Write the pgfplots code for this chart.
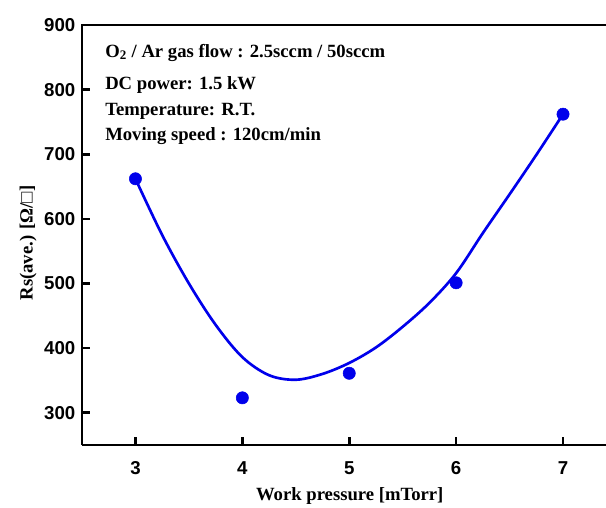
\documentclass[border=0pt]{standalone}
\usepackage{fontspec}
\setmainfont{Liberation Serif}
\setsansfont{Liberation Sans}
\usepackage{pgfplots}
\pgfplotsset{compat=1.18}
\definecolor{ptblue}{RGB}{0,0,235}

\begin{document}
\begin{tikzpicture}
\useasboundingbox (-61.5pt,-46.5pt) rectangle (393pt,333.75pt);
\begin{axis}[
  at={(0,0)}, anchor=south west,
  scale only axis, width=393pt, height=315pt,
  xmin=2.5, xmax=7.402, ymin=250, ymax=900,
  axis x line*=bottom, axis y line*=left,
  axis line style={line width=2.2pt, black},
  xtick={3,4,5,6,7}, ytick={300,400,500,600,700,800,900},
  tick align=inside,
  major tick length=6pt,
  tick style={line width=2pt, black},
  /pgf/number format/assume math mode=true,
  ticklabel style={font=\sffamily\bfseries\fontsize{14}{16}\selectfont},
  xticklabel style={yshift=-9pt},
  yticklabel style={xshift=-1.5pt},
  every axis x label/.style={at={(axis description cs:0.511,-0.121)}, anchor=center},
  every axis y label/.style={at={(axis description cs:-0.103,0.481)}, rotate=90, anchor=center},
  label style={font=\bfseries\fontsize{14}{16}\selectfont},
  xlabel={Work pressure [mTorr]},
  ylabel={Rs(ave.) [Ω/□]},
  clip=false,
]
\draw[line width=2.2pt, line cap=rect] (rel axis cs:0,1) -- (rel axis cs:1.02,1);

\addplot[ptblue, line width=2pt, smooth, tension=0.55, no marks] coordinates {
(3.00,662) (3.25,575) (3.50,500) (3.75,436) (4.00,386) (4.25,358) (4.50,351)
(4.75,360) (5.00,377) (5.25,401) (5.50,433) (5.75,470) (6.00,516) (6.25,578)
(6.50,638) (6.75,699) (7.00,762)
};
\addplot[only marks, mark=*, mark size=4.6pt, ptblue, mark options={draw=ptblue, fill=ptblue}] coordinates {
(3,662) (4,323) (5,361) (6,501) (7,762)
};

\node[anchor=base west, font=\bfseries\fontsize{14}{16}\selectfont, inner sep=0pt] at (axis description cs:0.0439,0.9238) {O\textsubscript{2} / Ar gas flow : 2.5sccm / 50sccm};
\node[anchor=base west, font=\bfseries\fontsize{14}{16}\selectfont, inner sep=0pt] at (axis description cs:0.0439,0.8476) {DC power: 1.5 kW};
\node[anchor=base west, font=\bfseries\fontsize{14}{16}\selectfont, inner sep=0pt] at (axis description cs:0.0439,0.7857) {Temperature: R.T.};
\node[anchor=base west, font=\bfseries\fontsize{14}{16}\selectfont, inner sep=0pt] at (axis description cs:0.0439,0.7262) {Moving speed : 120cm/min};
\end{axis}
\end{tikzpicture}
\end{document}
